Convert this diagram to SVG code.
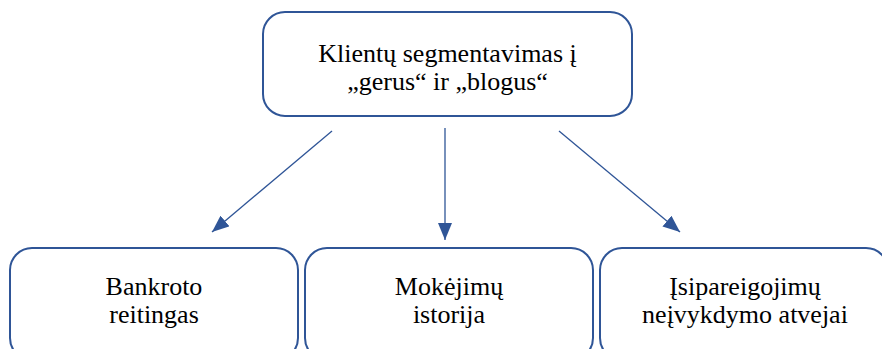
<svg xmlns="http://www.w3.org/2000/svg" width="882" height="349" viewBox="0 0 882 349">
  <style>
    .box { fill: #ffffff; stroke: #2F5597; stroke-width: 2; }
    .lbl { font-size: 26px; fill: #000000; text-anchor: middle; }
    .link { stroke: #2F5597; stroke-width: 1.3; fill: none; }
  </style>
  <defs>
    <marker id="arrow" viewBox="0 0 17 14" refX="17" refY="7" markerWidth="17" markerHeight="14" markerUnits="userSpaceOnUse" orient="auto">
      <path d="M0,0 L17,7 L0,14 Z" fill="#2F5597"/>
    </marker>
  </defs>
  <rect width="882" height="349" fill="#ffffff"/>

  <g font-family="'Liberation Serif', 'Times New Roman', 'DejaVu Serif', serif">
    <g id="node-root">
      <rect class="box" x="263" y="12" width="369" height="104" rx="22"/>
      <text class="lbl" x="447.5" y="62">Klientų segmentavimas į</text>
      <text class="lbl" x="447.5" y="90">„gerus“ ir „blogus“</text>
    </g>

    <g id="node-bankroto">
      <rect class="box" x="10" y="248" width="288" height="112" rx="22"/>
      <text class="lbl" x="154" y="295">Bankroto</text>
      <text class="lbl" x="154" y="323">reitingas</text>
    </g>

    <g id="node-mokejimu">
      <rect class="box" x="305" y="248" width="288" height="112" rx="22"/>
      <text class="lbl" x="449" y="295">Mokėjimų</text>
      <text class="lbl" x="449" y="323">istorija</text>
    </g>

    <g id="node-isipareigojimu">
      <rect class="box" x="600" y="248" width="288" height="112" rx="22"/>
      <text class="lbl" x="745" y="295">Įsipareigojimų</text>
      <text class="lbl" x="745" y="323">neįvykdymo atvejai</text>
    </g>
  </g>

  <g id="connectors">
    <path class="link" d="M332,131 L212,232" marker-end="url(#arrow)"/>
    <path class="link" d="M445,128 L445,240" marker-end="url(#arrow)"/>
    <path class="link" d="M559,131 L680,232" marker-end="url(#arrow)"/>
  </g>
</svg>
